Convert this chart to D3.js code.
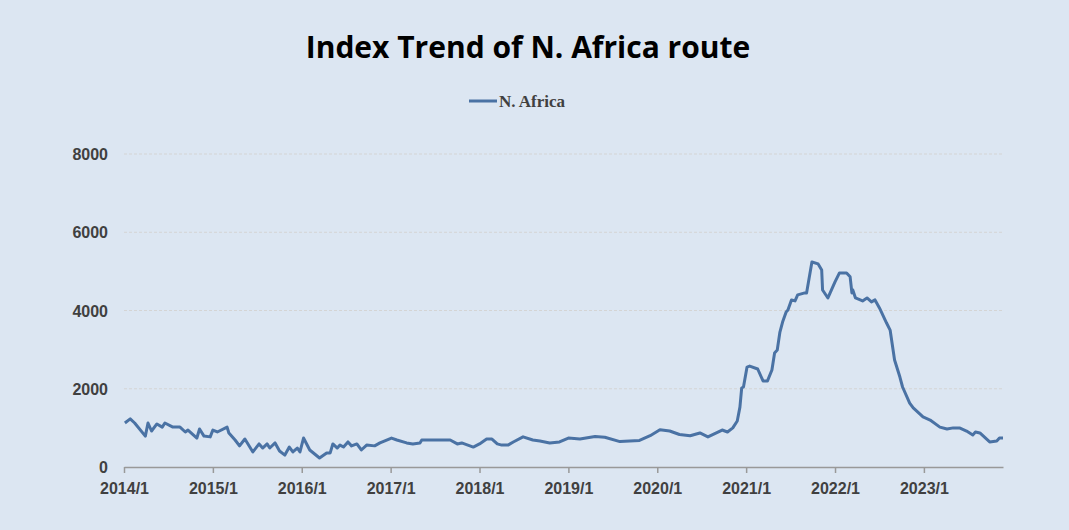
<!DOCTYPE html>
<html><head><meta charset="utf-8">
<script src="https://cdn.jsdelivr.net/npm/d3@7"></script>
<style>body{margin:0;background:#dce6f2;}svg{display:block}</style>
</head><body><svg id="c" width="1069" height="530"></svg>
<script>
const years = [2014.01,2014.07,2014.12,2014.24,2014.27,2014.31,2014.37,2014.43,2014.46,2014.55,2014.63,2014.69,2014.72,2014.82,2014.85,2014.90,2014.97,2015.00,2015.05,2015.16,2015.18,2015.25,2015.30,2015.36,2015.45,2015.52,2015.56,2015.61,2015.64,2015.70,2015.75,2015.81,2015.86,2015.90,2015.95,2015.98,2016.02,2016.09,2016.20,2016.28,2016.32,2016.35,2016.40,2016.43,2016.47,2016.52,2016.56,2016.62,2016.67,2016.73,2016.82,2016.88,2017.01,2017.07,2017.18,2017.25,2017.33,2017.35,2017.67,2017.75,2017.80,2017.93,2018.00,2018.08,2018.14,2018.20,2018.25,2018.32,2018.38,2018.49,2018.60,2018.68,2018.79,2018.90,2019.00,2019.13,2019.30,2019.41,2019.58,2019.80,2019.92,2020.03,2020.14,2020.25,2020.37,2020.48,2020.57,2020.73,2020.79,2020.85,2020.90,2020.93,2020.95,2020.97,2021.01,2021.04,2021.13,2021.19,2021.24,2021.29,2021.32,2021.35,2021.38,2021.41,2021.45,2021.47,2021.51,2021.55,2021.58,2021.66,2021.68,2021.74,2021.81,2021.85,2021.86,2021.92,2021.96,2022.00,2022.05,2022.13,2022.17,2022.19,2022.20,2022.23,2022.31,2022.36,2022.41,2022.45,2022.50,2022.58,2022.62,2022.67,2022.73,2022.76,2022.84,2022.88,2022.99,2023.07,2023.18,2023.26,2023.33,2023.40,2023.48,2023.55,2023.58,2023.63,2023.74,2023.82,2023.85,2023.89];
const values = [1125,1230,1125,790,1125,920,1100,1020,1125,1020,1020,895,945,740,970,790,770,945,895,1020,870,690,540,715,385,590,485,590,485,615,410,305,510,385,485,385,740,435,230,360,360,590,485,560,510,640,540,590,435,560,540,615,740,690,615,590,615,690,690,590,615,510,590,715,715,590,560,560,640,770,690,665,615,640,740,715,780,760,650,680,800,950,920,830,800,870,770,945,895,1000,1175,1530,2020,2045,2555,2580,2505,2200,2200,2480,2915,2990,3450,3705,3960,4010,4270,4245,4400,4450,4450,5240,5190,5035,4525,4320,4525,4730,4960,4960,4860,4450,4525,4320,4245,4320,4220,4270,4065,3680,3500,2735,2300,2045,1635,1510,1280,1200,1020,970,1000,1000,920,820,895,870,640,665,740,740];
const yTicks = [0,2000,4000,6000,8000];
const xTicks = [2014,2015,2016,2017,2018,2019,2020,2021,2022,2023];
const xTickLabels = ["2014/1","2015/1","2016/1","2017/1","2018/1","2019/1","2020/1","2021/1","2022/1","2023/1"];
const seriesName = "N. Africa";
const title = "Index Trend of N. Africa route";

const svg = d3.select("#c");
const x = d3.scaleLinear().domain([2014, 2023.89]).range([124, 1003]);
const y = d3.scaleLinear().domain([0, 8000]).range([467, 154]);
const col = "#4a72a4";

svg.append("text").attr("x", 528).attr("y", 58).attr("text-anchor","middle")
  .attr("font-family","Open Sans, sans-serif").attr("font-weight","bold").attr("font-size",30).attr("fill","#000").text(title);
svg.append("line").attr("x1",469).attr("x2",497).attr("y1",101).attr("y2",101).attr("stroke",col).attr("stroke-width",3);
svg.append("text").attr("x",499).attr("y",107).attr("font-family","Liberation Serif, serif").attr("font-weight","bold")
  .attr("font-size",17).attr("fill","#404040").text(seriesName);

svg.selectAll(".g").data(yTicks.filter(d=>d>0)).enter().append("line")
  .attr("x1",124).attr("x2",1003).attr("y1",d=>y(d)).attr("y2",d=>y(d))
  .attr("stroke","#d4d4d4").attr("stroke-dasharray","3,2").attr("stroke-width",1);
svg.selectAll(".yl").data(yTicks).enter().append("text")
  .attr("x",108).attr("y",d=>y(d)+6).attr("text-anchor","end")
  .attr("font-family","Liberation Sans, Arial, sans-serif").attr("font-weight","bold").attr("font-size",16).attr("fill","#404040").text(d=>d);

const xa = svg.append("g").attr("transform","translate(0,467)")
  .call(d3.axisBottom(x).tickValues(xTicks).tickFormat((d,i)=>xTickLabels[i]).tickSize(6).tickSizeOuter(0));
xa.select(".domain").attr("stroke","#999").attr("stroke-width",1.5);
xa.selectAll(".tick line").attr("stroke","#999").attr("stroke-width",1.5);
xa.selectAll("text").attr("font-family","Liberation Sans, Arial, sans-serif").attr("font-weight","bold")
  .attr("font-size",16).attr("fill","#404040").attr("dy","1.1em");

const line = d3.line().x((d,i)=>x(years[i])).y(d=>y(d));
svg.append("path").datum(values).attr("d",line).attr("fill","none").attr("stroke",col)
  .attr("stroke-width",3).attr("stroke-linejoin","round");
</script></body></html>
